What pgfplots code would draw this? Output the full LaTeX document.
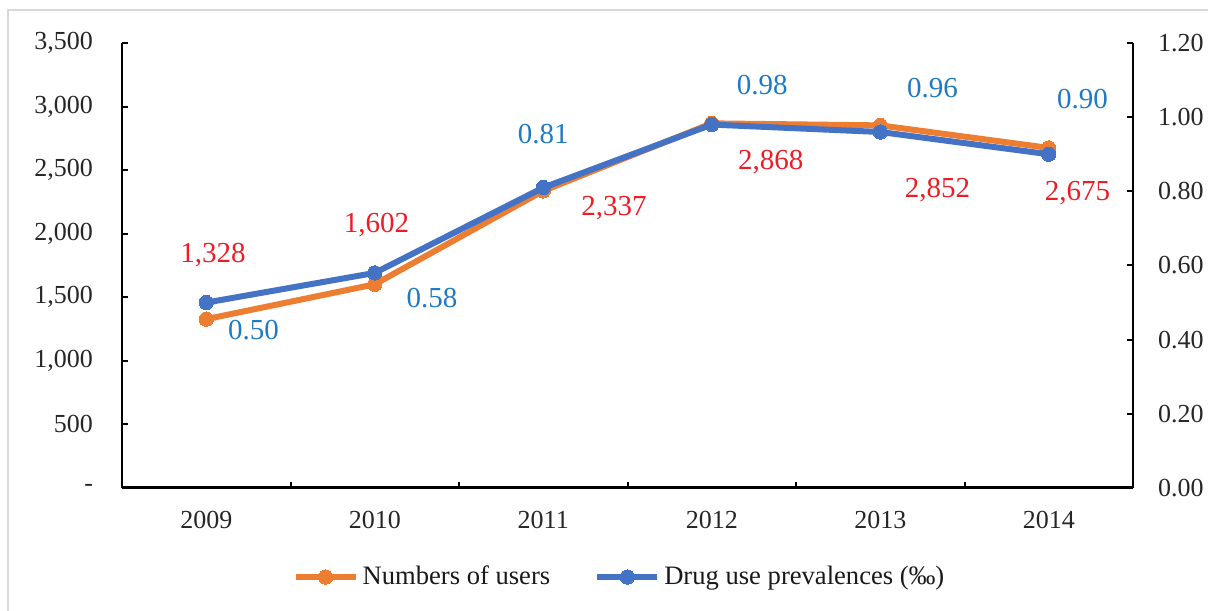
\documentclass[border=0pt]{standalone}
\usepackage{pgfplots}
\pgfplotsset{compat=1.18}
\usepackage{pgfplotstable}
\usepackage{fontspec}
\setmainfont{Liberation Serif}
\definecolor{uorange}{HTML}{ED7D31}
\definecolor{ublue}{HTML}{4472C4}
\definecolor{lred}{HTML}{EE1C25}
\definecolor{lblue}{HTML}{1F7AC3}
\definecolor{tick}{HTML}{262626}

\pgfplotstableread{
x y
0 1328
1 1602
2 2337
3 2868
4 2852
5 2675
}\users
\pgfplotstableread{
x y
0 0.50
1 0.58
2 0.81
3 0.98
4 0.96
5 0.90
}\prev
\pgfplotstableread{
x y label
0.04 1833 1,328
1.01 2069 1,602
2.42 2202 2,337
3.35 2564 2,868
4.34 2344 2,852
5.17 2320 2,675
}\userlabels
\pgfplotstableread{
x y label
0.28 0.426 0.50
1.34 0.512 0.58
2.00 0.955 0.81
3.30 1.087 0.98
4.31 1.079 0.96
5.20 1.049 0.90
}\prevlabels

\begin{document}
\begin{tikzpicture}
\useasboundingbox (-61pt,-61pt) rectangle (543pt,244pt);
\draw[black!15, line width=1pt] (-57pt,-90pt) rectangle (570pt,239pt);
\pgfplotsset{
  base/.style={
    scale only axis, width=505.5pt, height=222.5pt,
    at={(0pt,0pt)}, anchor=south west,
    xmin=-0.5, xmax=5.5,
    tick align=inside, major tick length=3pt,
    tick style={black, line width=1pt},
    ticklabel style={font=\fontsize{13}{15}\selectfont, text=tick},
  },
  ser/.style={#1, line width=3pt, mark=*, mark size=3.6pt, mark options={fill=#1, draw=#1, line width=0pt}},
}
\begin{axis}[base,
  ymin=0, ymax=3500,
  axis y line*=left, axis x line*=bottom,
  y axis line style={-, black, line width=1pt},
  x axis line style={-, black, line width=1.5pt},
  ytick={0,500,...,3500},
  yticklabels={-,500,{1,000},{1,500},{2,000},{2,500},{3,000},{3,500}},
  yticklabel style={xshift=-11pt},
  xtick={-0.5,0.5,...,5.5},
  xticklabels={},
  extra x ticks={0,1,2,3,4,5},
  extra x tick labels={2009,2010,2011,2012,2013,2014},
  extra x tick style={major tick length=0pt, xticklabel style={yshift=-8pt}},
]
\addplot[ser=uorange] table[x=x, y=y] {\users};
\addplot[draw=none, forget plot, nodes near coords, point meta=explicit symbolic,
  nodes near coords style={anchor=center, text=lred, font=\fontsize{14.5}{16}\selectfont}]
  table[x=x, y=y, meta=label] {\userlabels};
\end{axis}
\begin{axis}[base,
  ymin=0, ymax=1.2,
  axis y line*=right, axis x line=none,
  y axis line style={-, black, line width=1pt},
  ytick={0,0.2,0.4,0.6,0.8,1.0,1.2},
  yticklabels={0.00,0.20,0.40,0.60,0.80,1.00,1.20},
  yticklabel style={xshift=9pt},
  legend style={at={(0.493,-0.2)}, anchor=center, draw=none, fill=none,
    legend columns=2, font=\fontsize{13.3}{15}\selectfont,
    /tikz/every even column/.append style={column sep=20pt},
    text=black!90},
  legend cell align=left,
  legend image code/.code={\draw[#1, mark repeat=2, mark phase=2] plot coordinates {(0pt,0pt) (15pt,0pt) (30pt,0pt)};},
]
\addlegendimage{ser=uorange}
\addlegendentry{Numbers of users}
\addplot[ser=ublue] table[x=x, y=y] {\prev};
\addlegendentry{Drug use prevalences (‰)}
\addplot[draw=none, forget plot, nodes near coords, point meta=explicit symbolic,
  nodes near coords style={anchor=center, text=lblue, font=\fontsize{14.5}{16}\selectfont}]
  table[x=x, y=y, meta=label] {\prevlabels};
\end{axis}
\end{tikzpicture}
\end{document}
